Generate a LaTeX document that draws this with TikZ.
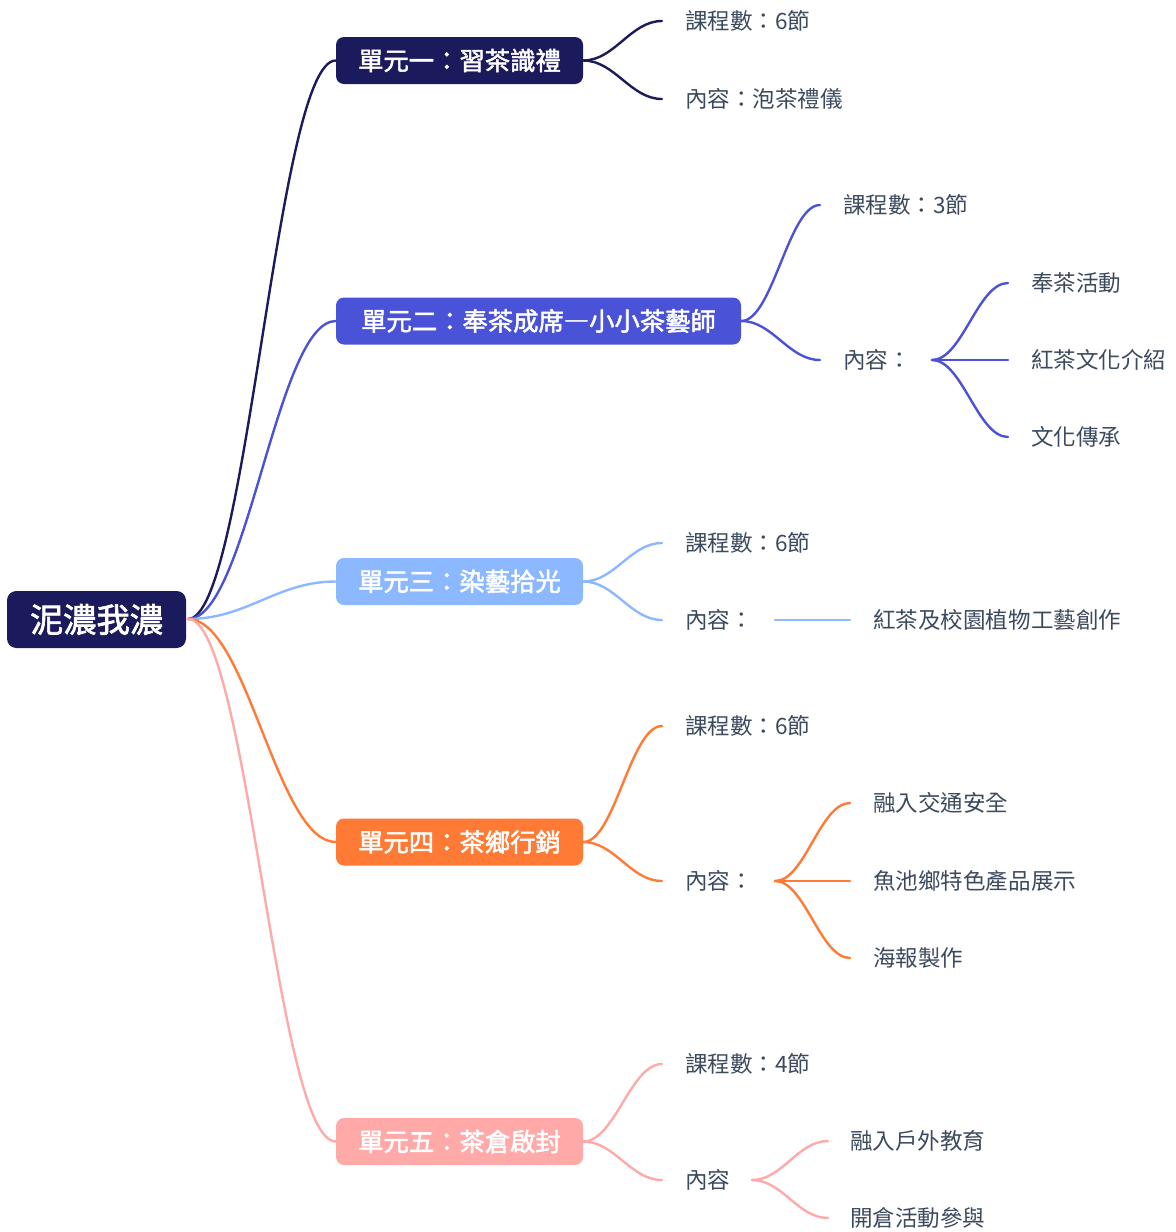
\documentclass[tikz,border=0pt]{standalone}
\usepackage{fontspec}
\setmainfont{Noto Sans CJK TC}
\newfontfamily\boxfont{Noto Sans CJK TC}[FakeBold=2]
\usetikzlibrary{calc}
\definecolor{cNavy}{HTML}{1B1A5C}
\definecolor{cBlue}{HTML}{4A52D8}
\definecolor{cLight}{HTML}{8CB8FF}
\definecolor{cOrange}{HTML}{FF7B35}
\definecolor{cPink}{HTML}{FFAAA8}
\definecolor{cText}{HTML}{3C4A5E}
\tikzset{
  branch/.style={to path={let \p1=(\tikztostart),\p2=(\tikztotarget) in
    .. controls ({\x1+0.4*(\x2-\x1)},\y1) and ({\x1+0.6*(\x2-\x1)},\y2) .. (\tikztotarget)}},
  conn/.style={line width=1.8pt, line cap=round},
  unitbox/.style={rounded corners=6pt, inner sep=0pt, text=white,
    font=\boxfont\fontsize{19}{22}\selectfont, minimum height=47*0.75pt},
  rootbox/.style={rounded corners=7pt, inner sep=0pt, text=white, fill=cNavy,
    font=\boxfont\fontsize{25}{28}\selectfont, minimum width=179*0.75pt, minimum height=57*0.75pt},
  leaf/.style={anchor=west, inner sep=0pt, text=cText, font=\fontsize{16.9}{20}\selectfont},
}
\begin{document}
\begin{tikzpicture}[x=0.75pt,y=-0.75pt]
\useasboundingbox (0,0) rectangle (1175,1232);
% root
\node[rootbox] (root) at (96.5,619.5) {泥濃我濃};
% units
\node[unitbox, fill=cNavy, minimum width=247*0.75pt] (u1) at (459.5,60.5) {單元一：習茶識禮};
\node[unitbox, fill=cBlue, minimum width=405*0.75pt] (u2) at (538.5,321) {單元二：奉茶成席―小小茶藝師};
\node[unitbox, fill=cLight, minimum width=247*0.75pt] (u3) at (459.5,581.5) {單元三：染藝拾光};
\node[unitbox, fill=cOrange, minimum width=247*0.75pt] (u4) at (459.5,842) {單元四：茶鄉行銷};
\node[unitbox, fill=cPink, minimum width=247*0.75pt] (u5) at (459.5,1141.5) {單元五：茶倉啟封};
\coordinate (rs) at (188,619);
\draw[conn, cNavy] (rs) to[branch] (u1.west);
\draw[conn, cBlue] (rs) to[branch] (u2.west);
\draw[conn, cLight] (rs) to[branch] (u3.west);
\draw[conn, cOrange] (rs) to[branch] (u4.west);
\draw[conn, cPink] (rs) to[branch] (u5.west);
% unit 1
\coordinate (c11) at (662,21);
\coordinate (c12) at (662,99);
\node[leaf] (t11) at (685,21) {課程數：6節};
\node[leaf] (t12) at (685,99) {內容：泡茶禮儀};
\draw[conn, cNavy] (u1.east) to[branch] (c11);
\draw[conn, cNavy] (u1.east) to[branch] (c12);
% unit 2
\coordinate (c21) at (820,205);
\coordinate (c22) at (820,360);
\node[leaf] (t21) at (843,205) {課程數：3節};
\node[leaf] (t22) at (843,360) {內容：};
\draw[conn, cBlue] (u2.east) to[branch] (c21);
\draw[conn, cBlue] (u2.east) to[branch] (c22);
\coordinate (s22) at (932,360);
\coordinate (c221) at (1008,283);
\coordinate (c222) at (1008,360);
\coordinate (c223) at (1008,437);
\node[leaf] (t221) at (1031,283) {奉茶活動};
\node[leaf] (t222) at (1031,360) {紅茶文化介紹};
\node[leaf] (t223) at (1031,437) {文化傳承};
\draw[conn, cBlue] (s22) to[branch] (c221);
\draw[conn, cBlue] (s22) -- (c222);
\draw[conn, cBlue] (s22) to[branch] (c223);
% unit 3
\coordinate (c31) at (662,543);
\coordinate (c32) at (662,620);
\node[leaf] (t31) at (685,543) {課程數：6節};
\node[leaf] (t32) at (685,620) {內容：};
\draw[conn, cLight] (u3.east) to[branch] (c31);
\draw[conn, cLight] (u3.east) to[branch] (c32);
\coordinate (s32) at (775,620);
\coordinate (c321) at (850,620);
\node[leaf] (t321) at (873,620) {紅茶及校園植物工藝創作};
\draw[conn, cLight] (s32) -- (c321);
% unit 4
\coordinate (c41) at (662,726);
\coordinate (c42) at (662,881);
\node[leaf] (t41) at (685,726) {課程數：6節};
\node[leaf] (t42) at (685,881) {內容：};
\draw[conn, cOrange] (u4.east) to[branch] (c41);
\draw[conn, cOrange] (u4.east) to[branch] (c42);
\coordinate (s42) at (775,881);
\coordinate (c421) at (850,803);
\coordinate (c422) at (850,881);
\coordinate (c423) at (850,958);
\node[leaf] (t421) at (873,803) {融入交通安全};
\node[leaf] (t422) at (873,881) {魚池鄉特色產品展示};
\node[leaf] (t423) at (873,958) {海報製作};
\draw[conn, cOrange] (s42) to[branch] (c421);
\draw[conn, cOrange] (s42) -- (c422);
\draw[conn, cOrange] (s42) to[branch] (c423);
% unit 5
\coordinate (c51) at (662,1064);
\coordinate (c52) at (662,1180);
\node[leaf] (t51) at (685,1064) {課程數：4節};
\node[leaf] (t52) at (685,1180) {內容};
\draw[conn, cPink] (u5.east) to[branch] (c51);
\draw[conn, cPink] (u5.east) to[branch] (c52);
\coordinate (s52) at (752,1180);
\coordinate (c521) at (828,1141);
\coordinate (c522) at (828,1218);
\node[leaf] (t521) at (850,1141) {融入戶外教育};
\node[leaf] (t522) at (850,1218) {開倉活動參與};
\draw[conn, cPink] (s52) to[branch] (c521);
\draw[conn, cPink] (s52) to[branch] (c522);
\end{tikzpicture}
\end{document}
